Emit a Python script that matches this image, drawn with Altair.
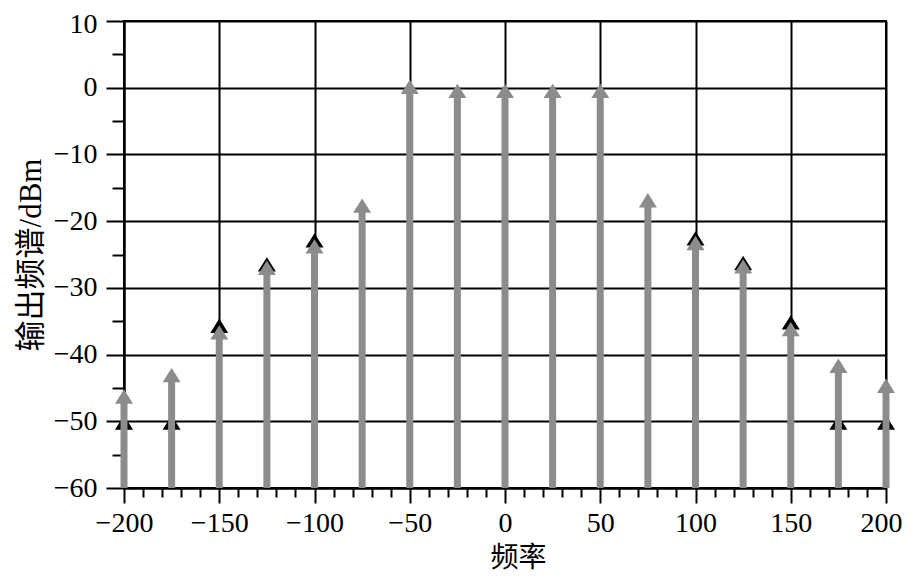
import altair as alt
import pandas as pd

# ---- data ----
freq = [-200, -175, -150, -125, -100, -75, -50, -25, 0, 25, 50, 75, 100, 125, 150, 175, 200]
gray_level = [-45.2, -42.0, -35.6, -25.9, -22.7, -16.6, 1.2, 0.6, 0.6, 0.6, 0.6,
              -15.8, -22.2, -25.7, -35.1, -40.6, -43.6]
black_freq = [-200, -175, -150, -125, -100, 100, 125, 150, 175, 200]
black_level = [-49.1, -49.1, -34.6, -25.4, -21.8, -21.5, -25.2, -34.1, -49.1, -49.1]

x_ticks = list(range(-200, 201, 10))
y_ticks = list(range(-60, 11, 5))

gray_df = pd.DataFrame({"freq": freq, "level": gray_level})
black_df = pd.DataFrame({"freq": black_freq, "level": black_level})

NUM_FONT = "Liberation Serif"
CJK_FONT = "'Liberation Serif', 'Noto Sans CJK SC'"
GRAY = "#8c8c8c"
HEAD = "M-1,1.6L0,0L1,1.6Z"   # arrow head with its tip at the data point

x_scale = alt.Scale(domain=[-200, 200], nice=False, zero=False)
y_scale = alt.Scale(domain=[-60, 10], nice=False, zero=False)

PLOT_W = 762
PLOT_H = 467

x_axis = alt.Axis(
    values=x_ticks, tickCount=len(x_ticks),
    title="频率",
    titleFont=CJK_FONT, titleFontSize=28, titleFontWeight="normal", titleColor="black",
    titlePadding=7, titleX=394,
    labelExpr="datum.value % 50 === 0 ? datum.label : ''",
    labelFont=NUM_FONT, labelFontSize=28, labelColor="black", labelPadding=6,
    labelOffset={"condition": {"test": "datum.value === 200", "value": -5}, "value": 0},
    labelFlush=False, labelOverlap=False,
    tickColor="black", tickWidth=2,
    tickSize={"condition": {"test": "datum.value % 50 === 0", "value": 15}, "value": 9},
    domainColor="black", domainWidth=2,
    grid=True, gridColor="black", gridWidth=2,
    gridOpacity={"condition": {"test": "datum.value % 50 === 0", "value": 1}, "value": 0},
)

y_axis = alt.Axis(
    values=y_ticks, tickCount=len(y_ticks),
    title="输出频谱/dBm",
    titleFont=CJK_FONT, titleFontSize=31, titleFontWeight="normal", titleColor="black",
    titlePadding=6,
    labelExpr="datum.value % 10 === 0 ? datum.label : ''",
    labelFont=NUM_FONT, labelFontSize=28, labelColor="black", labelPadding=9,
    labelOffset={"condition": {"test": "datum.value === 10", "value": 3}, "value": 0},
    labelFlush=False, labelOverlap=False,
    tickColor="black", tickWidth=2,
    tickSize={"condition": {"test": "datum.value % 10 === 0", "value": 18}, "value": 12},
    domainColor="black", domainWidth=2,
    grid=True, gridColor="black", gridWidth=2,
    gridOpacity={"condition": {"test": "datum.value % 10 === 0", "value": 1}, "value": 0},
)

black_heads = alt.Chart(black_df).mark_point(
    shape=HEAD, filled=True, color="black", opacity=1, size=324, strokeWidth=0
).encode(
    x=alt.X("freq:Q", scale=x_scale, axis=x_axis),
    y=alt.Y("level:Q", scale=y_scale, axis=y_axis),
)

gray_stems = alt.Chart(gray_df).transform_calculate(
    stem_top="datum.level - 1.5"
).mark_rule(color=GRAY, strokeWidth=7).encode(
    x=alt.X("freq:Q", scale=x_scale),
    y=alt.Y("stem_top:Q", scale=y_scale),
    y2=alt.datum(-60),
)

gray_heads = alt.Chart(gray_df).mark_point(
    shape=HEAD, filled=True, color=GRAY, opacity=1, size=324, strokeWidth=0
).encode(
    x=alt.X("freq:Q", scale=x_scale),
    y=alt.Y("level:Q", scale=y_scale),
)

chart = alt.layer(black_heads, gray_stems, gray_heads).properties(
    width=PLOT_W,
    height=PLOT_H,
    autosize=alt.AutoSizeParams(type="none"),
    padding={"left": 116, "top": 13, "right": 17, "bottom": 86},
    background="white",
).configure_view(
    stroke="black", strokeWidth=2
)

chart.save("out.html", embed_options={"renderer": "svg", "actions": False})
